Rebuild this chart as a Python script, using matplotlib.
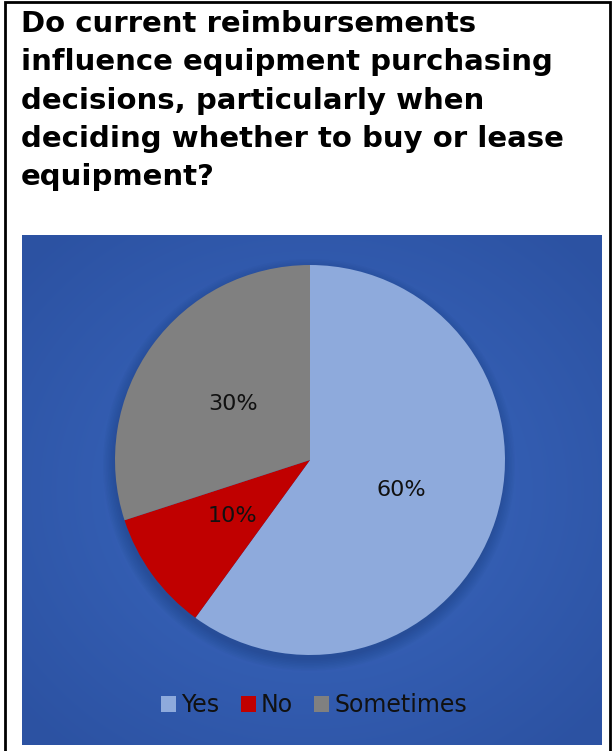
import matplotlib
matplotlib.use("Agg")
import matplotlib.pyplot as plt
import numpy as np
from matplotlib.patches import Rectangle, Circle

title_lines = [
    "Do current reimbursements",
    "influence equipment purchasing",
    "decisions, particularly when",
    "deciding whether to buy or lease",
    "equipment?",
]
labels = ["Yes", "No", "Sometimes"]
shares = [60, 10, 30]
colors = ["#8eaadc", "#c00000", "#808080"]

W, H = 613, 751
fig = plt.figure(figsize=(W / 100, H / 100), dpi=100)
fig.patch.set_facecolor("white")

# black frame round the white card
fig.patches.append(Rectangle((5 / W, -0.01), (W - 8) / W, 1.0 - 2 / H + 0.01,
                             transform=fig.transFigure, fill=False,
                             edgecolor="black", linewidth=2))

# title, one line at a time
for i, line in enumerate(title_lines):
    y = 1 - (32 + i * 38.3) / H
    fig.text(21 / W, y, line, fontsize=21, fontweight="bold",
             family="DejaVu Sans", va="baseline", ha="left", color="black")

# blue panel with radial gradient
px0, py0, px1, py1 = 22, 235, 602, 745
bg = fig.add_axes([px0 / W, (H - py1) / H, (px1 - px0) / W, (py1 - py0) / H])
nx, ny = 580, 510
xx, yy = np.meshgrid(np.linspace(-1, 1, nx), np.linspace(-1, 1, ny))
r = np.clip(np.sqrt(xx ** 2 + yy ** 2) / 1.35, 0, 1)
c_in = np.array([0x3b, 0x69, 0xc2]) / 255
c_out = np.array([0x2c, 0x52, 0xa2]) / 255
img = c_in[None, None, :] * (1 - r[..., None]) + c_out[None, None, :] * r[..., None]
bg.imshow(img, aspect="auto", extent=[0, 1, 0, 1], interpolation="bilinear")
bg.set_xlim(0, 1)
bg.set_ylim(0, 1)
bg.axis("off")

# pie
cx, cy, rad = 310, 460, 195
ax = fig.add_axes([(cx - rad) / W, (H - cy - rad) / H, 2 * rad / W, 2 * rad / H])
ax.set_facecolor("none")
# soft shadow under the pie
for k in range(8):
    ax.add_patch(Circle((-0.005, -0.025), 1.0 + 0.008 * k, color="#0f2658",
                        alpha=0.035, zorder=0, linewidth=0, clip_on=False))
wedges, texts, autotexts = ax.pie(
    shares, colors=colors, startangle=90, counterclock=False,
    autopct="%d%%", pctdistance=0.49, radius=1.0,
    wedgeprops=dict(linewidth=0),
    textprops=dict(fontsize=16, color="#111111", family="DejaVu Sans"))
for w in wedges:
    w.set_zorder(2)
for t in autotexts:
    t.set_zorder(3)
ax.set_xlim(-1, 1)
ax.set_ylim(-1, 1)
ax.set_aspect("equal")
ax.axis("off")

leg = fig.legend(wedges, labels, loc="center", bbox_to_anchor=(314 / W, (H - 705) / H),
                 ncol=3, frameon=False, handlelength=0.65,
                 handleheight=0.65, handletextpad=0.2, columnspacing=0.9,
                 prop=dict(family="DejaVu Sans", size=17))
for t in leg.get_texts():
    t.set_color("#111111")

fig.savefig("out.png", dpi=100)
